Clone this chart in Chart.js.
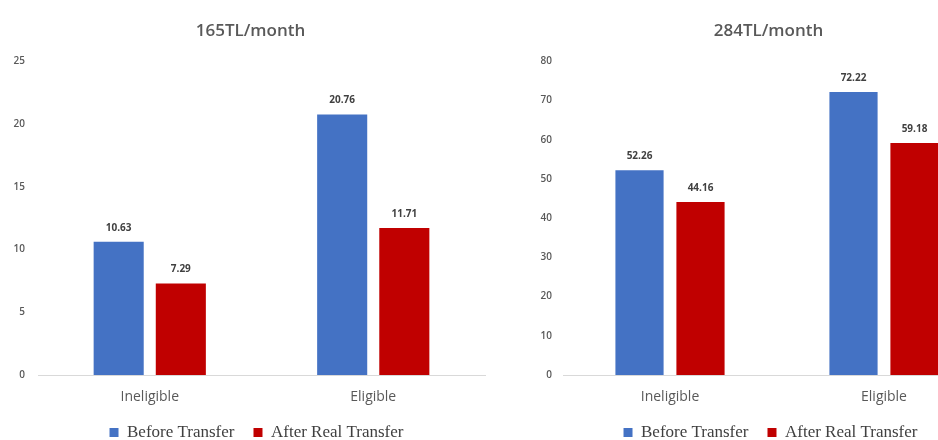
<!DOCTYPE html>
<html>
<head>
<meta charset="utf-8">
<script src="https://cdn.jsdelivr.net/npm/chart.js@4.4.1/dist/chart.umd.min.js"></script>
<style>
  html, body { margin: 0; padding: 0; background: #fff; overflow: hidden; }
  body { width: 938px; height: 440px; position: relative; }
  .box { position: absolute; top: 0; height: 440px; overflow: hidden; }
  #leftBox { left: 0; width: 500px; }
  #rightBox { left: 530px; width: 490px; }
</style>
</head>
<body>
<div class="box" id="leftBox"><canvas id="chartLeft" width="500" height="451"></canvas></div>
<div class="box" id="rightBox"><canvas id="chartRight" width="490" height="451"></canvas></div>
<script>
const categories = ["Ineligible", "Eligible"];
const seriesNames = ["Before Transfer", "After Real Transfer"];
const seriesColors = ["#4472C4", "#C00000"];

const leftTitle = "165TL/month";
const leftBefore = [10.63, 20.76];
const leftAfter = [7.29, 11.71];
const leftTicks = [0, 5, 10, 15, 20, 25];

const rightTitle = "284TL/month";
const rightBefore = [52.26, 72.22];
const rightAfter = [44.16, 59.18];
const rightTicks = [0, 10, 20, 30, 40, 50, 60, 70, 80];

// draws the value above each bar
const valueLabels = {
  id: "valueLabels",
  afterDatasetsDraw(chart) {
    const ctx = chart.ctx;
    ctx.save();
    ctx.font = "bold 10px 'Open Sans', sans-serif";
    ctx.fillStyle = "#404040";
    ctx.textAlign = "center";
    ctx.textBaseline = "middle";
    chart.data.datasets.forEach((ds, i) => {
      chart.getDatasetMeta(i).data.forEach((bar, j) => {
        ctx.fillText(ds.data[j].toFixed(2), bar.x, bar.y - 14);
      });
    });
    ctx.restore();
  },
};

// nudges title and legend sideways (the original is centred a bit further right)
const nudgeHeader = {
  id: "nudgeHeader",
  afterLayout(chart, args, opts) {
    const dx = opts.dx || 0;
    const dl = opts.dl || 0;
    if (chart.titleBlock) {
      chart.titleBlock.left += dx;
      chart.titleBlock.right += dx;
    }
    if (chart.legend) {
      chart.legend.left += dl;
      chart.legend.right += dl;
    }
  },
};

function makeChart(id, title, before, after, ticks, opts) {
  const ctx = document.getElementById(id).getContext("2d");
  return new Chart(ctx, {
    type: "bar",
    data: {
      labels: categories,
      datasets: [
        {
          label: seriesNames[0],
          data: before,
          backgroundColor: seriesColors[0],
          categoryPercentage: opts.catPct,
          barPercentage: opts.barPct,
        },
        {
          label: seriesNames[1],
          data: after,
          backgroundColor: seriesColors[1],
          categoryPercentage: opts.catPct,
          barPercentage: opts.barPct,
        },
      ],
    },
    options: {
      responsive: false,
      animation: false,
      layout: { padding: { left: 0, right: opts.padRight, top: 0, bottom: 0 } },
      plugins: {
        title: {
          display: true,
          text: title,
          color: "#595959",
          font: { size: 17, family: "'Open Sans', sans-serif", weight: "600" },
          padding: { top: 21, bottom: 20 },
        },
        legend: {
          display: true,
          position: "bottom",
          labels: {
            boxWidth: 9,
            boxHeight: 9,
            color: "#404040",
            padding: 19,
            font: { size: 17, family: "'Liberation Serif', serif" },
          },
        },
        tooltip: { enabled: false },
        nudgeHeader: { dx: opts.titleShift, dl: opts.legendShift },
      },
      scales: {
        x: {
          afterFit: (scale) => {
            scale.height = 30;
          },
          grid: { display: false, drawTicks: false },
          border: { display: true, color: "#D9D9D9", width: 1 },
          ticks: {
            color: "#595959",
            padding: 14,
            font: { size: 14, family: "'Open Sans', sans-serif" },
          },
        },
        y: {
          min: 0,
          max: ticks[ticks.length - 1],
          afterBuildTicks: (scale) => {
            scale.ticks = ticks.map((v) => ({ value: v }));
          },
          afterFit: (scale) => {
            scale.width = opts.yWidth;
          },
          grid: { display: false, drawTicks: false },
          border: { display: false },
          ticks: {
            color: "#595959",
            padding: opts.tickPad,
            font: { size: 10, family: "'Open Sans', sans-serif", weight: "600" },
          },
        },
      },
    },
    plugins: [valueLabels, nudgeHeader],
  });
}

makeChart("chartLeft", leftTitle, leftBefore, leftAfter, leftTicks, {
  catPct: 0.556,
  barPct: 0.806,
  padRight: 15,
  yWidth: 38,
  tickPad: 13,
  titleShift: 8,
  legendShift: 14,
});

makeChart("chartRight", rightTitle, rightBefore, rightAfter, rightTicks, {
  catPct: 0.57,
  barPct: 0.79,
  padRight: 29,
  yWidth: 33,
  tickPad: 11,
  titleShift: 8,
  legendShift: 10,
});
</script>
</body>
</html>
